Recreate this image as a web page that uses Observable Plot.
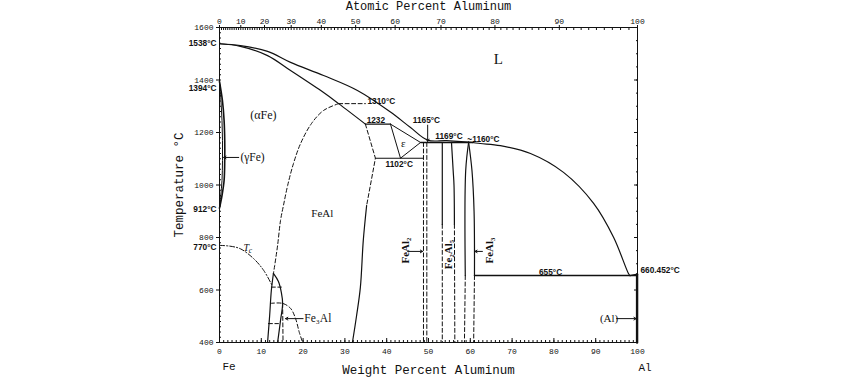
<!DOCTYPE html>
<html><head><meta charset="utf-8">
<script src="https://cdn.jsdelivr.net/npm/d3@7"></script>
<script src="https://cdn.jsdelivr.net/npm/@observablehq/plot@0.6"></script>
<style>body{margin:0;background:#fff}</style>
</head><body><div id="chart"></div>
<script>
// ---- axis ticks ----
const wtTicks = [0,10,20,30,40,50,60,70,80,90,100];
const wtMinor = d3.range(0,101,1);
const tTicks = [400,600,800,1000,1200,1400,1600];
const tMinor = d3.range(400,1601,20);
const tMinorRight = d3.range(400,1601,50);
const atLabels = [0,10,20,30,40,50,60,70,80,90,100];
const atMinor = d3.range(0,101,1);
// atomic % -> weight % (Al 26.98, Fe 55.85)
const atToWt = a => a === 100 ? 100 : 100*26.98*a/(26.98*a + 55.85*(100-a));

// ---- phase boundaries (wt% Al, °C) ----
const liquidus = [[0,1538],[5.0,1531],[11.5,1509],[17.0,1467],[24.9,1417],[33.0,1360],[40.9,1278],[45.7,1219],[49.8,1171],[54.3,1169],[59.6,1163],[62.4,1158],[67.2,1150],[74.4,1120],[82.3,1048],[89.5,930],[94.3,800],[97.8,664],[98.2,655]];
const alEnd = [[98.2,655],[100,660.452]];
const solidus = [[0,1538],[5.0,1528],[11.5,1493],[17.0,1436],[24.9,1352],[28.5,1310],[34.9,1232]];
const b2Boundary = [[28.5,1310],[24.9,1284],[22.0,1234],[19.4,1158],[17.7,1082],[16.3,998],[15.3,922],[14.6,865],[13.9,770],[13.2,693],[12.9,663]];
const line1310 = [[28.5,1310],[34.9,1310]];
const gammaOuter = [[0,1394],[0.7,1322],[1.1,1246],[1.25,1170],[1.25,1093],[1.1,1017],[0.6,960],[0,912]];
const gammaInner = [[0,1394],[0.35,1322],[0.6,1246],[0.72,1170],[0.72,1093],[0.6,1017],[0.3,960],[0,912]];
const tcCurve = [[0,770],[2.5,767],[5.0,757],[8.2,719],[10.6,674],[12.6,617]];
const d03Boundary = [[12.2,549],[15.1,549],[17.0,530],[18.2,491],[19.1,438],[19.9,400]];
const lensLeft = [[11.5,400],[12.0,503],[12.4,598],[12.9,663]];
const lensRight = [[12.9,663],[14.1,632],[14.8,590],[15.1,549],[14.6,484],[13.9,400]];
const lensDashed = [[[12.4,611],[14.8,611]],[[11.7,472],[14.1,472]],[[15.1,549],[15.2,400]]];
const feAlRightDashed = [[34.9,1232],[37.3,1102],[35.2,922]];
const feAlRightSolid = [[35.2,922],[34.4,789],[33.7,610],[32.8,503],[31.8,400]];
const line1232 = [[34.9,1232],[40.9,1232]];
const epsilon = [[40.9,1232],[43.3,1102],[48.1,1162],[40.9,1232]];
const line1102 = [[37.3,1102],[48.8,1102]];
const line1162 = [[48.1,1162],[60.6,1162]];
const feAl2Lines = [[[48.8,1162],[48.8,400]],[[49.6,1162],[49.6,400]]];
const fe2Al5Solid = [[[53.3,1162],[53.3,850]],[[55.5,1162],[55.9,1055],[56.1,1000],[56.2,850]]];
const fe2Al5Dashed = [[[53.3,850],[53.3,400]],[[56.2,850],[56.3,400]]];
const feAl3Solid = [[[59.6,1163],[58.9,1055],[58.8,655]],[[59.6,1163],[60.4,1055],[60.9,900],[61.0,655]]];
const feAl3Dashed = [[[58.8,655],[58.6,400]],[[61.0,655],[60.8,400]]];
const line655 = [[61.0,655],[99.9,655]];
const alSolvus = [[99.9,660.452],[99.9,400]];

// ---- labels ----
const tempLeft = [
  {t:"1538°C", y:1538},{t:"1394°C", y:1368},{t:"912°C", y:907},{t:"770°C", y:763}
];
const tempNotes = [
  {t:"1310°C", x:35.4, y:1318, a:"start"},
  {t:"1232", x:35.2, y:1246, a:"start"},
  {t:"1102°C", x:43.0, y:1078, a:"middle"},
  {t:"1165°C", x:49.5, y:1246, a:"middle"},
  {t:"1169°C", x:54.9, y:1185, a:"middle"},
  {t:"~1160°C", x:59.3, y:1174, a:"start"},
  {t:"655°C", x:79.2, y:668, a:"middle"},
  {t:"660.452°C", x:100.7, y:674, a:"start"}
];
const phaseLabels = [
  {t:"L", x:66.7, y:1479, s:15},
  {t:"(αFe)", x:10.5, y:1265, s:12},
  {t:"FeAl", x:24.6, y:891, s:11},
  {t:"ε", x:44.0, y:1158, s:11}
];
const arrowLabels = [
  {t:"(γFe)", x:5.0, y:1105, a:"start"},
  {t:"Fe₃Al", x:20.3, y:491, a:"start"},
  {t:"(Al)", x:93.2, y:491, a:"middle"}
];
const rotLabels = [
  {t:"FeAl₂", x:44.5, y:750},
  {t:"Fe₂Al₅", x:54.8, y:735},
  {t:"FeAl₃", x:64.6, y:750}
];
const arrows = [
  {x1:4.6, y1:1105, x2:1.0, y2:1105},
  {x1:20.0, y1:491, x2:15.8, y2:491},
  {x1:45.0, y1:747, x2:48.6, y2:747},
  {x1:62.9, y1:747, x2:61.1, y2:747},
  {x1:95.0, y1:491, x2:99.7, y2:491},
  {x1:49.8, y1:1228, x2:49.8, y2:1166}
];

const K = "#111";
const serif = "Liberation Serif, DejaVu Serif, serif";
const mono = "Liberation Mono, DejaVu Sans Mono, monospace";
const sans = "Liberation Sans, Arial, sans-serif";
const X = d => d[0], Y = d => d[1];
const solid = (pts, o={}) => Plot.line(pts, {x:X, y:Y, stroke:K, strokeWidth:1.2, ...o});
const dashed = (pts, o={}) => Plot.line(pts, {x:X, y:Y, stroke:K, strokeWidth:1, strokeDasharray:"4,2.5", ...o});
const byAnchor = (arr, a) => arr.filter(d => d.a === a);

const plot = Plot.plot({
  width:850, height:385,
  marginLeft:219, marginRight:213, marginTop:27, marginBottom:43,
  x:{domain:[0,100]}, y:{domain:[400,1600]},
  style:{background:"#fff", color:K, fontFamily:mono, fontSize:"8px", overflow:"visible"},
  marks:[
    Plot.frame({stroke:K, strokeWidth:1}),
    // bottom axis
    Plot.axisX({anchor:"bottom", ticks:wtMinor, tickSize:-2, tickFormat:()=>"", label:null}),
    Plot.axisX({anchor:"bottom", ticks:wtTicks, tickSize:-4, tickFormat:()=>"", label:null}),
    Plot.axisX({anchor:"bottom", ticks:wtTicks, tickSize:0, tickPadding:6, tickFormat:d=>String(d), label:null}),
    // top axis (atomic %)
    Plot.axisX({anchor:"top", ticks:atMinor.map(atToWt), tickSize:-2, tickFormat:()=>"", label:null}),
    Plot.axisX({anchor:"top", ticks:atLabels.map(atToWt), tickSize:3, tickFormat:()=>"", label:null}),
    Plot.axisX({anchor:"top", ticks:atLabels.map(atToWt), tickSize:0, tickPadding:4, tickFormat:(d,i)=>String(atLabels[i]), label:null}),
    // left axis
    Plot.axisY({anchor:"left", ticks:tMinor, tickSize:-2, tickFormat:()=>"", label:null}),
    Plot.axisY({anchor:"left", ticks:tTicks, tickSize:3, tickFormat:()=>"", label:null}),
    Plot.axisY({anchor:"left", ticks:tTicks, tickSize:0, tickPadding:6, tickFormat:d=>String(d), label:null}),
    // right axis
    Plot.axisY({anchor:"right", ticks:tMinorRight, tickSize:-2, tickFormat:()=>"", label:null}),
    Plot.axisY({anchor:"right", ticks:tTicks, tickSize:-4, tickFormat:()=>"", label:null}),
    // titles
    Plot.text(["Weight Percent Aluminum"], {frameAnchor:"bottom", dy:27, lineAnchor:"middle", textAnchor:"middle", fontSize:12.5, fontFamily:mono}),
    Plot.text(["Atomic Percent Aluminum"], {frameAnchor:"top", dy:-21, lineAnchor:"middle", textAnchor:"middle", fontSize:12, fontFamily:mono}),
    Plot.text(["Temperature °C"], {frameAnchor:"left", dx:-41, rotate:-90, textAnchor:"middle", fontSize:12.5, fontFamily:mono}),
    Plot.text(["Fe"], {frameAnchor:"bottom-left", dx:3, dy:24, lineAnchor:"middle", textAnchor:"start", fontSize:11, fontFamily:mono}),
    Plot.text(["Al"], {frameAnchor:"bottom-right", dx:1, dy:25, lineAnchor:"middle", textAnchor:"start", fontSize:11, fontFamily:mono}),
    // boundaries
    solid(liquidus, {curve:"catmull-rom"}),
    solid(alEnd),
    solid(solidus, {curve:"catmull-rom"}),
    dashed(b2Boundary, {curve:"catmull-rom"}),
    dashed(line1310),
    solid(gammaOuter, {curve:"catmull-rom", strokeWidth:1.6}),
    solid(gammaInner, {curve:"catmull-rom", strokeWidth:1}),
    Plot.line(tcCurve, {x:X, y:Y, curve:"catmull-rom", stroke:K, strokeWidth:1, strokeDasharray:"5,2,1.2,2"}),
    dashed(d03Boundary, {curve:"catmull-rom"}),
    solid(lensLeft, {curve:"catmull-rom"}),
    solid(lensRight, {curve:"catmull-rom"}),
    ...lensDashed.map(s => dashed(s)),
    dashed(feAlRightDashed),
    solid(feAlRightSolid, {curve:"catmull-rom"}),
    solid(line1232),
    solid(epsilon, {strokeWidth:1}),
    solid(line1102),
    solid(line1162, {strokeWidth:1.4}),
    ...feAl2Lines.map(s => dashed(s)),
    ...fe2Al5Solid.map(s => solid(s, {curve:"catmull-rom"})),
    ...fe2Al5Dashed.map(s => dashed(s)),
    ...feAl3Solid.map(s => solid(s, {curve:"catmull-rom"})),
    ...feAl3Dashed.map(s => dashed(s)),
    solid(line655, {strokeWidth:1.4}),
    solid(alSolvus, {strokeWidth:2.4}),
    Plot.arrow(arrows, {x1:"x1", y1:"y1", x2:"x2", y2:"y2", stroke:K, strokeWidth:1, headLength:4}),
    // labels
    Plot.text(tempLeft, {x:0, y:"y", text:"t", dx:-3, textAnchor:"end", fontSize:8.3, fontWeight:"bold", fontFamily:sans}),
    Plot.text(byAnchor(tempNotes,"start"), {x:"x", y:"y", text:"t", textAnchor:"start", fontSize:8.3, fontWeight:"bold", fontFamily:sans}),
    Plot.text(byAnchor(tempNotes,"middle"), {x:"x", y:"y", text:"t", textAnchor:"middle", fontSize:8.3, fontWeight:"bold", fontFamily:sans}),
    Plot.text(phaseLabels, {x:"x", y:"y", text:"t", fontSize:"s", fontFamily:serif}),
    Plot.text(byAnchor(arrowLabels,"start"), {x:"x", y:"y", text:"t", textAnchor:"start", fontSize:11.5, fontFamily:serif}),
    Plot.text(byAnchor(arrowLabels,"middle"), {x:"x", y:"y", text:"t", textAnchor:"middle", fontSize:11, fontFamily:serif}),
    Plot.text(rotLabels, {x:"x", y:"y", text:"t", rotate:-90, fontSize:11, fontWeight:"bold", fontFamily:serif}),
    Plot.text(["T"], {x:6.4, y:760, fontSize:10, fontStyle:"italic", fontFamily:serif}),
    Plot.text(["c"], {x:7.4, y:752, fontSize:7.5, fontStyle:"italic", fontFamily:serif})
  ]
});
document.getElementById("chart").appendChild(plot);
</script>
</body></html>
